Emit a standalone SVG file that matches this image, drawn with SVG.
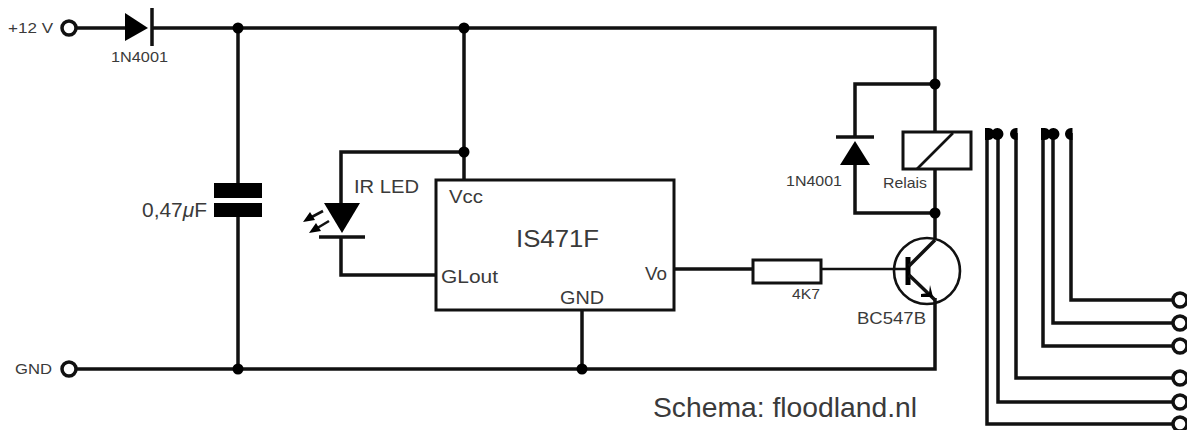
<svg xmlns="http://www.w3.org/2000/svg" width="1187" height="430" viewBox="0 0 1187 430">
<style>
.w{fill:none;stroke:#111;stroke-width:3.5}
.t{fill:none;stroke:#111;stroke-width:2.6}
.b{fill:#000;stroke:none}
.o{fill:#fff;stroke:#111;stroke-width:3.5}
text{font-family:"Liberation Sans",Arial,sans-serif;fill:#3a3a3a}
.s{font-size:15px}
.m{font-size:19px}
</style>
<rect width="1187" height="430" fill="#fff"/>
<g id="connectors">
<path class="w" d="M76 28H125M152 28H935V145"/>
<path class="w" d="M238 28V183M238 217V369"/>
<path class="w" d="M76 369H935V298"/>
<path class="w" d="M464 28V180M464 152H341V204M341 238V275H436"/>
<path class="w" d="M582 310V369"/>
<path class="w" d="M935 169V240M935 84H855V137M855 165V213H935"/>
<path class="w" d="M674 269H753"/>
<path class="t" d="M821 269H908"/>
<path class="w" d="M1071 133V300H1173M1053 133V323H1173M1043 133V346H1173M1016 133V378H1173M998 133V402H1173M987 133V424H1173"/>
<circle class="b" cx="238" cy="28" r="5.500"/>
<circle class="b" cx="464" cy="28" r="5.500"/>
<circle class="b" cx="464" cy="152" r="5.500"/>
<circle class="b" cx="935" cy="84" r="5.500"/>
<circle class="b" cx="935" cy="213" r="5.500"/>
<circle class="b" cx="238" cy="369" r="5.500"/>
<circle class="b" cx="582" cy="369" r="5.500"/>
</g>
<g id="vcc-terminal"><circle class="o" cx="69" cy="28" r="7"/><text class="s" x="8" y="33" textLength="45" lengthAdjust="spacingAndGlyphs">+12 V</text></g>
<g id="gnd-terminal"><circle class="o" cx="69" cy="369" r="7"/><text class="s" x="15" y="374" textLength="37" lengthAdjust="spacingAndGlyphs">GND</text></g>
<g id="d1"><path class="b" d="M125 13L148 28L125 41Z"/><path class="w" d="M152 8V46"/><text class="s" x="111" y="62" textLength="57" lengthAdjust="spacingAndGlyphs">1N4001</text></g>
<g id="c1"><rect class="b" x="214" y="183" width="48" height="15"/><rect class="b" x="214" y="203" width="48" height="14"/><text x="142" y="217" style="font-size:20px" textLength="65" lengthAdjust="spacingAndGlyphs">0,47<tspan font-style="italic">μ</tspan>F</text></g>
<g id="led"><path class="b" d="M324 203H360L342 233Z"/><path class="w" d="M319 237H365"/>
<path class="t" d="M323 211L308 219M329 221L314 230"/><path class="b" d="M303 222L310 212L315 220ZM309 233L316 223L321 231Z"/>
<text class="m" x="354" y="193" textLength="65" lengthAdjust="spacingAndGlyphs">IR LED</text></g>
<g id="ic"><rect x="436" y="180" width="238" height="130" fill="#fff" stroke="#111" stroke-width="3"/>
<text class="m" x="449" y="203" textLength="34" lengthAdjust="spacingAndGlyphs">Vcc</text><text class="m" x="441" y="283" textLength="57" lengthAdjust="spacingAndGlyphs">GLout</text><text class="m" x="560" y="304" textLength="44" lengthAdjust="spacingAndGlyphs">GND</text><text class="m" x="645" y="280" textLength="22" lengthAdjust="spacingAndGlyphs">Vo</text>
<text x="516" y="247" style="font-size:24px" textLength="83" lengthAdjust="spacingAndGlyphs">IS471F</text></g>
<g id="r1"><rect x="753" y="260" width="68" height="23" fill="#fff" stroke="#111" stroke-width="3"/><text class="s" x="792" y="299" textLength="28" lengthAdjust="spacingAndGlyphs">4K7</text></g>
<g id="q1"><circle cx="927" cy="271" r="33" fill="none" stroke="#111" stroke-width="2.600"/>
<path class="b" d="M905.500 257H910.500V285H905.500Z"/><path class="w" d="M909 266L935 240M909 275L935 300"/>
<path class="b" d="M921 294L929 293L930 285L933 297L921 297Z"/>
<text x="857" y="324" style="font-size:17px" textLength="69" lengthAdjust="spacingAndGlyphs">BC547B</text></g>
<g id="d2"><path class="w" d="M836 137H874"/><path class="b" d="M855 141L870 165H840Z"/><text class="s" x="786" y="186" textLength="56" lengthAdjust="spacingAndGlyphs">1N4001</text></g>
<g id="relay"><rect x="903" y="132" width="68" height="37" fill="#fff" stroke="#111" stroke-width="3"/><path class="t" d="M917 169L953 133"/><text class="s" x="883" y="188" textLength="44" lengthAdjust="spacingAndGlyphs">Relais</text></g>
<g id="contacts">
<path class="b" d="M985 128H988A5.500 5.500 0 0 1 993 130A6 6 0 1 1 993 138A5.500 5.500 0 0 1 988 140H985ZM1017.500 128V140H1016A6 6 0 0 1 1016 128ZM1041 128H1044A5.500 5.500 0 0 1 1049 130A6 6 0 1 1 1049 138A5.500 5.500 0 0 1 1044 140H1041ZM1072.500 128V140H1071A6 6 0 0 1 1071 128Z"/>
<circle class="o" cx="1180" cy="300" r="7"/><circle class="o" cx="1180" cy="323" r="7"/><circle class="o" cx="1180" cy="346" r="7"/><circle class="o" cx="1180" cy="378" r="7"/><circle class="o" cx="1180" cy="402" r="7"/><circle class="o" cx="1180" cy="424" r="7"/>
</g>
<g id="credit"><text x="653" y="417" style="font-size:28px" textLength="264" lengthAdjust="spacingAndGlyphs">Schema: floodland.nl</text></g>
</svg>
